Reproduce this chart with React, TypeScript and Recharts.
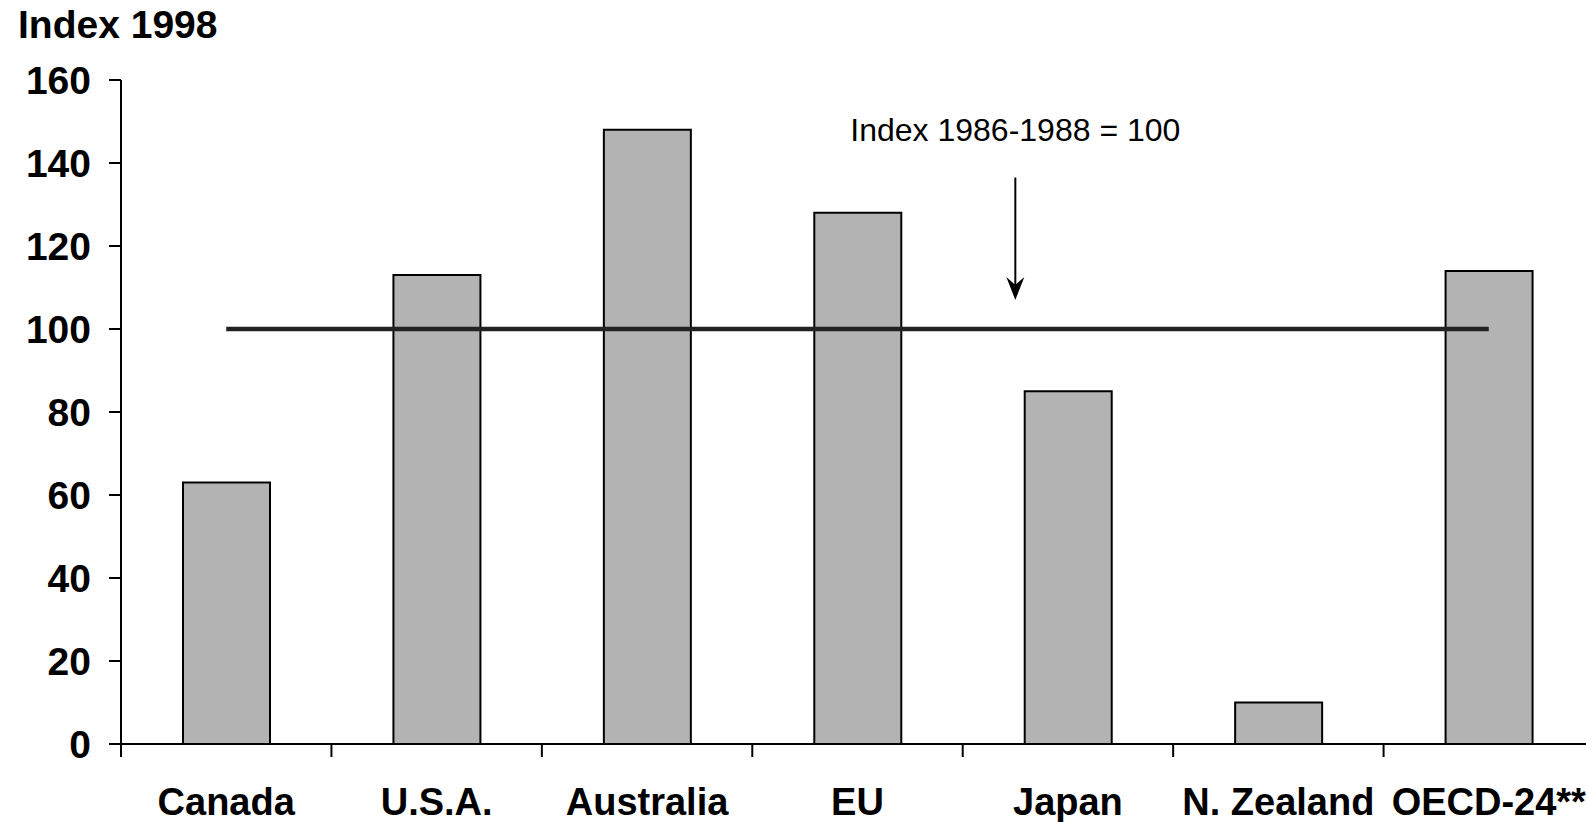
import {
  Bar,
  ComposedChart,
  Line,
  XAxis,
  YAxis,
  ReferenceLine,
  ReferenceDot,
} from "recharts";

const categories = ["Canada", "U.S.A.", "Australia", "EU", "Japan", "N. Zealand", "OECD-24**"];
const index1998 = [63, 113, 148, 128, 85, 10, 114];
const baseIndex = [100, 100, 100, 100, 100, 100, 100];
const yTicks = [0, 20, 40, 60, 80, 100, 120, 140, 160];

// annotation: arrow pointing at the 100 line, a little left of the Japan bar
const noteCategory = "Japan";
const noteShift = -0.25; // fraction of a category band
const arrowFrom = 136.5;
const arrowTo = 107;
const noteText = "Index 1986-1988 = 100";
const noteY = 148;

const CHART_W = 1600;
const CHART_H = 822;
const Y_AXIS_W = 121;
const MARGIN = { top: 80, right: 6, bottom: 0, left: 0 };
const BAND = (CHART_W - Y_AXIS_W - MARGIN.right) / categories.length;

const chartData = categories.map((name, i) => ({
  name,
  value: index1998[i],
  base: baseIndex[i],
}));

function CategoryTick(props: any) {
  const { x, y, payload } = props;
  const left = x - BAND / 2;
  return (
    <g>
      <line x1={left} x2={left} y1={y} y2={y + 13} stroke="#000" strokeWidth={2} />
      <text x={x} y={y + 71} textAnchor="middle" fontSize={38} fontWeight="bold" fill="#000">
        {payload.value}
      </text>
    </g>
  );
}

function ArrowShape(props: any) {
  const { x1, y1, y2 } = props;
  if (x1 == null || y2 == null) return null;
  const x = x1 + noteShift * BAND;
  return (
    <g>
      <line x1={x} y1={y1} x2={x} y2={y2 - 14} stroke="#000" strokeWidth={2} />
      <polygon
        points={`${x - 9},${y2 - 23} ${x},${y2 - 15} ${x + 9},${y2 - 23} ${x},${y2}`}
        fill="#000"
      />
    </g>
  );
}

function NoteShape(props: any) {
  const { cx, cy } = props;
  if (cx == null || cy == null) return null;
  return (
    <text
      x={cx + noteShift * BAND}
      y={cy}
      textAnchor="middle"
      dominantBaseline="central"
      fontSize={32}
      fill="#000"
    >
      {noteText}
    </text>
  );
}

export default function App() {
  return (
    <div
      style={{
        position: "absolute",
        left: 0,
        top: 0,
        width: 1586,
        height: 822,
        overflow: "hidden",
        background: "#fff",
        fontFamily: "'Liberation Sans', Arial, sans-serif",
      }}
    >
      <div
        style={{
          position: "absolute",
          left: 18,
          top: 5,
          fontSize: 39,
          lineHeight: "39px",
          fontWeight: "bold",
          color: "#000",
        }}
      >
        Index 1998
      </div>
      <ComposedChart width={CHART_W} height={CHART_H} data={chartData} margin={MARGIN}>
        <XAxis
          dataKey="name"
          height={78}
          axisLine={{ stroke: "#000", strokeWidth: 2 }}
          tickLine={false}
          tickSize={0}
          tickMargin={0}
          interval={0}
          tick={<CategoryTick />}
        />
        <YAxis
          width={Y_AXIS_W}
          domain={[0, 160]}
          ticks={yTicks}
          interval={0}
          axisLine={{ stroke: "#000", strokeWidth: 2 }}
          tickLine={{ stroke: "#000", strokeWidth: 2 }}
          tickSize={12}
          tickMargin={18}
          tick={{ fontSize: 39, fontWeight: "bold", fill: "#000" }}
        />
        <Bar
          dataKey="value"
          fill="#b3b3b3"
          stroke="#000"
          strokeWidth={2}
          barSize={87}
          isAnimationActive={false}
        />
        <Line
          dataKey="base"
          stroke="#222"
          strokeWidth={4.5}
          dot={false}
          activeDot={false}
          isAnimationActive={false}
        />
        <ReferenceLine
          segment={[
            { x: noteCategory, y: arrowFrom },
            { x: noteCategory, y: arrowTo },
          ]}
          shape={<ArrowShape />}
        />
        <ReferenceDot x={noteCategory} y={noteY} r={0} shape={<NoteShape />} />
      </ComposedChart>
    </div>
  );
}
